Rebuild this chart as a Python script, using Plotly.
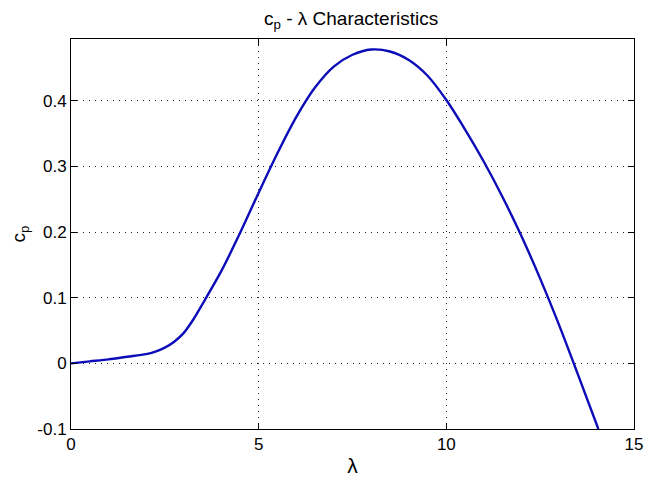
import plotly.graph_objects as go

lam = [0, 0.5, 1.0, 1.5, 2.0, 2.25, 2.5, 2.75, 3.0, 3.25, 3.5, 4.0, 4.5, 5.0, 5.5, 6.0, 6.5, 7.0,
       7.5, 8.0, 8.5, 9.0, 9.5, 10.0, 10.5, 11.0, 11.5, 12.0, 12.5, 13.0, 13.5, 14.05]
cp = [0.0, 0.003, 0.006, 0.010, 0.014, 0.018, 0.024, 0.033, 0.046, 0.066, 0.090, 0.140, 0.198,
      0.260, 0.320, 0.375, 0.420, 0.452, 0.470, 0.478, 0.475, 0.462, 0.438, 0.401, 0.356, 0.307,
      0.253, 0.194, 0.129, 0.059, -0.016, -0.100]

x_ticks = [0, 5, 10, 15]
y_ticks = [-0.1, 0, 0.1, 0.2, 0.3, 0.4]
y_ticktext = ["-0.1", "0", "0.1", "0.2", "0.3", "0.4"]

fig = go.Figure()
fig.add_trace(go.Scatter(x=lam, y=cp, mode="lines",
                         line=dict(color="#0c0cb8", width=2.4, shape="spline", smoothing=0.8),
                         showlegend=False, hoverinfo="skip"))

axis_common = dict(showline=True, linecolor="black", linewidth=1, mirror="ticks",
                   ticks="inside", ticklen=6, tickcolor="black",
                   showgrid=True, gridcolor="#222222", griddash="1px,5px", gridwidth=1,
                   zeroline=False, tickfont=dict(size=17, color="black"),
                   ticklabeloverflow="allow")

# page body has an 8px default margin, so the figure is 8px smaller and offset
fig.update_layout(
    width=645, height=475,
    margin=dict(l=63, r=10, t=31, b=54),
    paper_bgcolor="white", plot_bgcolor="white",
    font=dict(family="Liberation Sans, Arial, sans-serif", color="black"),
    title=dict(text="c<sub>p</sub> - λ Characteristics", x=0.532, xanchor="center",
               y=0.978, yanchor="middle", font=dict(size=19, color="black")),
    xaxis=dict(range=[0, 15], tickvals=x_ticks, ticktext=[str(v) for v in x_ticks],
               title=dict(text="λ", font=dict(size=21), standoff=4), **axis_common),
    yaxis=dict(range=[-0.1, 0.494], tickvals=y_ticks, ticktext=y_ticktext,
               title=dict(text="c<sub>p</sub>", font=dict(size=19), standoff=6), **axis_common),
)

fig.write_html("out.html")
